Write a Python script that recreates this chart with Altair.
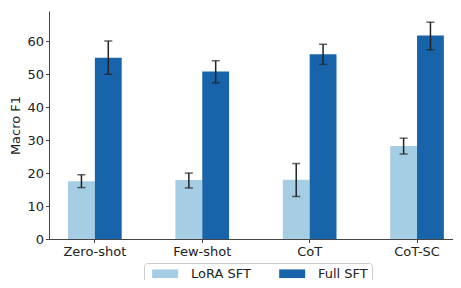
import altair as alt
import pandas as pd

methods = ["Zero-shot", "Few-shot", "CoT", "CoT-SC"]
models = ["LoRA SFT", "Full SFT"]
lora = [17.5, 17.9, 18.0, 28.2]
lora_lo = [15.6, 15.5, 12.9, 25.8]
lora_hi = [19.5, 20.0, 22.9, 30.6]
full = [55.0, 50.8, 56.1, 61.8]
full_lo = [50.0, 47.4, 53.0, 57.4]
full_hi = [60.1, 54.1, 59.1, 65.8]
colors = ["#a5cde3", "#1764ab"]
y_ticks = [0, 10, 20, 30, 40, 50, 60]

rows = []
for i, m in enumerate(methods):
    rows.append({"method": m, "model": models[0], "value": lora[i], "lo": lora_lo[i], "hi": lora_hi[i]})
    rows.append({"method": m, "model": models[1], "value": full[i], "lo": full_lo[i], "hi": full_hi[i]})
df = pd.DataFrame(rows)

x_scale = alt.Scale(paddingInner=0.5, paddingOuter=0.131, align=0.676)
x_axis = alt.Axis(labelAngle=0, labelFontSize=13, labelColor="#222", labelPadding=3,
                  tickSize=3.5, tickColor="#444", domainColor="#444", labelFont="DejaVu Sans")
y_axis = alt.Axis(values=y_ticks, grid=False, labelFontSize=13, labelColor="#222",
                  titleFontSize=13, titleFontWeight="normal", titleColor="#222",
                  titleFont="DejaVu Sans", labelFont="DejaVu Sans", labelOverlap=False,
                  tickSize=3.5, tickColor="#444", domainColor="#444", labelPadding=2,
                  titlePadding=4)
x = alt.X("method:N", sort=methods, title=None, scale=x_scale, axis=x_axis)
xo = alt.XOffset("model:N", sort=models, scale=alt.Scale(paddingInner=0, paddingOuter=0))
y_scale = alt.Scale(domain=[0, 69.2], nice=False, zero=True)

base = alt.Chart(df)

bars = base.mark_bar().encode(
    x=x,
    xOffset=xo,
    y=alt.Y("value:Q", scale=y_scale, title="Macro F1", axis=y_axis),
    color=alt.Color("model:N", sort=models, scale=alt.Scale(domain=models, range=colors),
                    legend=alt.Legend(title=None, orient="none", legendX=95, legendY=252,
                                      direction="horizontal", columns=2,
                                      symbolType="M-0.54,-1H5.46V1H-0.54Z", symbolSize=75,
                                      symbolStrokeWidth=0, labelFontSize=13, labelColor="#222",
                                      labelFont="DejaVu Sans", labelOffset=30, columnPadding=24,
                                      padding=4, strokeColor="#cccccc", fillColor="white",
                                      cornerRadius=3)),
)

rules = base.mark_rule(color="#222", strokeWidth=1.5).encode(
    x=x,
    xOffset=xo,
    y=alt.Y("lo:Q", scale=y_scale, title="Macro F1", axis=y_axis),
    y2="hi:Q",
)
caps_lo = base.mark_tick(color="#222", size=8, thickness=1.5, orient="horizontal").encode(
    x=x,
    xOffset=xo,
    y=alt.Y("lo:Q", scale=y_scale, title="Macro F1", axis=y_axis),
)
caps_hi = base.mark_tick(color="#222", size=8, thickness=1.5, orient="horizontal").encode(
    x=x,
    xOffset=xo,
    y=alt.Y("hi:Q", scale=y_scale, title="Macro F1", axis=y_axis),
)

chart = alt.layer(bars, rules, caps_lo, caps_hi).properties(
    width=404, height=228,
    autosize=alt.AutoSizeParams(type="none"),
    padding={"left": 41, "top": 3, "right": 0, "bottom": 41},
).configure_view(stroke=None).configure_axis(grid=False)

chart.save("out.html", embed_options={"renderer": "svg", "actions": False})
